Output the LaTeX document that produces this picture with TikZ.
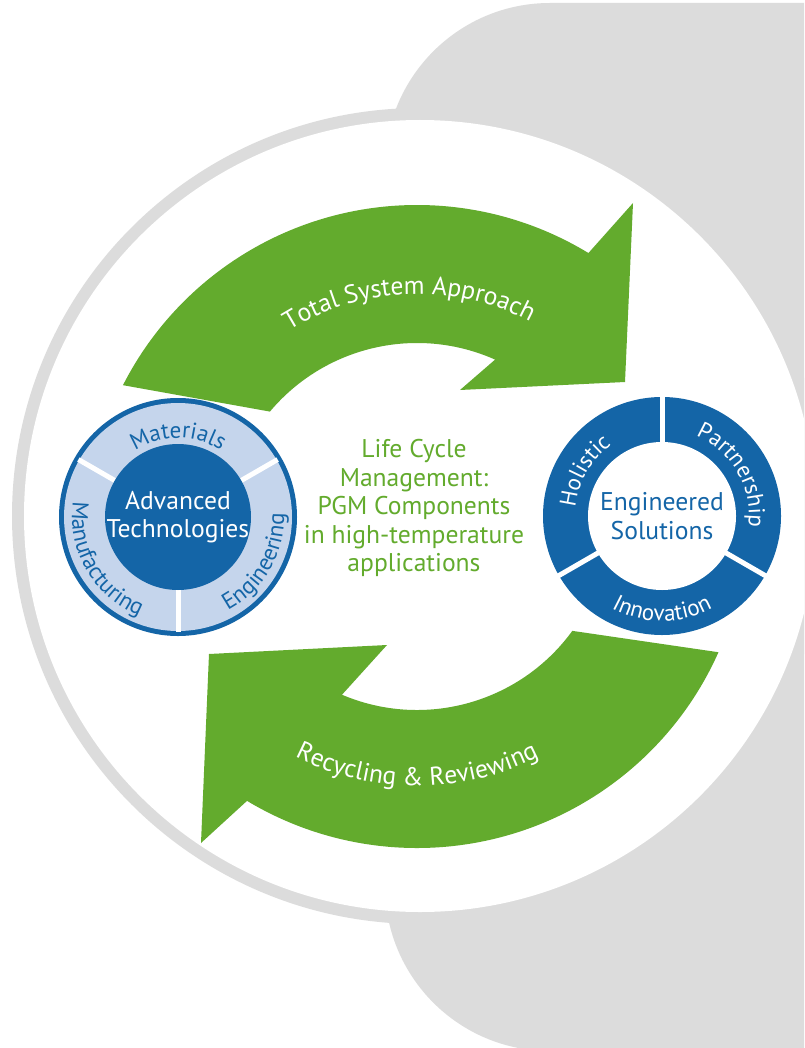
\documentclass[tikz,border=0pt]{standalone}
\usepackage{fontspec}
\setmainfont{PT Sans}
\usetikzlibrary{calc,decorations.text}

\definecolor{arrowgreen}{RGB}{99,171,45}
\definecolor{techblue}{RGB}{20,101,167}
\definecolor{bandblue}{RGB}{197,213,236}
\definecolor{bggray}{RGB}{220,220,220}

\newcommand{\labelfont}{\fontsize{12.8}{14.25}\selectfont}
\newcommand{\ringfont}{\fontsize{11.5}{13}\selectfont}
\newcommand{\bandfont}{\fontsize{12.8}{14}\selectfont}

\tikzset{
  arctext/.style={decorate, decoration={text along path, text align=center, text={#1}}},
}

\begin{document}
\begin{tikzpicture}[x=0.5pt,y=0.5pt]
  \useasboundingbox (0,0) rectangle (804,-1048);
  \clip (0,0) rectangle (804,-1048);
  \fill[white] (0,0) rectangle (804,-1048);

  % grey panel and the big disc
  \fill[bggray, rounded corners=82.5pt] (385,-3) rectangle (1000,-1051);
  \coordinate (disc) at (420,-516);
  \fill[bggray] (disc) circle (408);
  \fill[white] (disc) circle (396);

  % the two green arrows
  \coordinate (ct) at (417,-535);
  \coordinate (cb) at (417,-518);
  \fill[arrowgreen] ($(ct)+(153:330)$) arc[start angle=153, end angle=58.7, radius=330]
    -- (633,-203) -- (625,-382) -- (460,-390)
    -- ($(ct)+(66:192)$) arc[start angle=66, end angle=140, radius=192] -- cycle;
  \fill[arrowgreen] ($(cb)+(-24:330)$) arc[start angle=-24, end angle=-121, radius=330]
    -- (201,-843) -- (209,-654) -- (387,-645)
    -- ($(cb)+(-113:192)$) arc[start angle=-113, end angle=-36, radius=192] -- cycle;
  \path[arctext={|\bandfont\color{white}|Total System Approach}]
    ($(ct)+(152:241)$) arc[start angle=152, end angle=32, radius=241];
  \path[arctext={|\bandfont\color{white}|Recycling {\&} Reviewing}]
    ($(cb)+(-150:268)$) arc[start angle=-150, end angle=-30, radius=268];

  % left wheel
  \coordinate (lc) at (178,-517);
  \fill[techblue] (lc) circle (119);
  \fill[bandblue] (lc) circle (114);
  \foreach \a in {30,150,270}
    \draw[white, line width=2.5pt] ($(lc)+(\a:72)$) -- ($(lc)+(\a:115)$);
  \fill[techblue] (lc) circle (73);
  \node[align=center, text=white, font=\labelfont] (adv) at (lc) {Advanced\\Technologies};
  \path[arctext={|\ringfont\color{techblue}|Materials}]
    ($(lc)+(150:79)$) arc[start angle=150, end angle=30, radius=79];
  \path[arctext={|\ringfont\color{techblue}|Manufacturing}]
    ($(lc)+(150:106)$) arc[start angle=150, end angle=270, radius=106];
  \path[arctext={|\ringfont\color{techblue}|Engineering}]
    ($(lc)+(-90:106)$) arc[start angle=-90, end angle=30, radius=106];

  % right wheel
  \coordinate (rc) at (662,-516);
  \fill[techblue] (rc) circle (119);
  \fill[white] (rc) circle (74);
  \foreach \a in {90,-30,210}
    \draw[white, line width=2.5pt] ($(rc)+(\a:70)$) -- ($(rc)+(\a:121)$);
  \node[align=center, text=techblue, font=\labelfont] (sol) at (rc) {Engineered\\Solutions};
  \path[arctext={|\ringfont\color{white}|Holistic}]
    ($(rc)+(210:87)$) arc[start angle=210, end angle=90, radius=87];
  \path[arctext={|\ringfont\color{white}|Partnership}]
    ($(rc)+(90:87)$) arc[start angle=90, end angle=-30, radius=87];
  \path[arctext={|\ringfont\color{white}|Innovation}]
    ($(rc)+(210:105)$) arc[start angle=210, end angle=330, radius=105];

  % centre label
  \node[align=center, text=arrowgreen, font=\labelfont] (lcm) at (414,-508)
    {Life Cycle\\Management:\\PGM Components\\in high-temperature\\applications};
\end{tikzpicture}
\end{document}
